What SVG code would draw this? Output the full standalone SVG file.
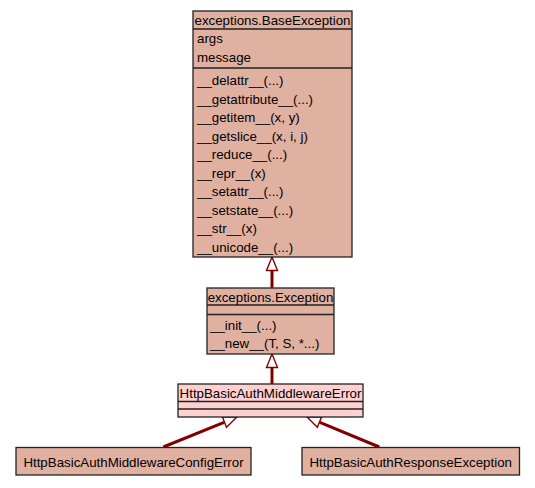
<svg xmlns="http://www.w3.org/2000/svg" width="535" height="488" viewBox="0 0 535 488">
<style>
text{font-family:"Liberation Sans",Arial,sans-serif;font-size:13.3px;fill:#000}
.t{text-anchor:middle}
.base{fill:#e0b0a0;stroke:#222;stroke-width:1.3}
.sel{fill:#ffd0d0;stroke:#222;stroke-width:1.3}
.sep{stroke:#222;stroke-width:1.3}
.edge{stroke:#800000;stroke-width:3;fill:none}
</style>
<defs>
<marker id="inh" markerUnits="userSpaceOnUse" markerWidth="16" markerHeight="14" refX="0" refY="6" orient="auto" overflow="visible">
<path d="M0.5,0.5 L14,6 L0.5,11.5 Z" fill="#fff" stroke="#800000" stroke-width="1.4"/>
</marker>
</defs>
<g id="connectors">
<line class="edge" x1="272" y1="287.7" x2="272" y2="271" marker-end="url(#inh)"/>
<line class="edge" x1="272" y1="384" x2="272" y2="368" marker-end="url(#inh)"/>
<line class="edge" x1="163.3" y1="447" x2="224" y2="422.3" marker-end="url(#inh)"/>
<line class="edge" x1="379.3" y1="447" x2="319.9" y2="422.4" marker-end="url(#inh)"/>
</g>
<g id="BaseException">
<rect class="base" x="193" y="11" width="159" height="246"/>
<line class="sep" x1="193" y1="29" x2="352" y2="29"/>
<line class="sep" x1="193" y1="68" x2="352" y2="68"/>
<text class="t" x="272.5" y="24.5">exceptions.BaseException</text>
<text x="197" y="43.3">args</text>
<text x="197" y="61.7">message</text>
<text x="197" y="85">__delattr__(...)</text>
<text x="197" y="103.5">__getattribute__(...)</text>
<text x="197" y="122">__getitem__(x, y)</text>
<text x="197" y="140.7">__getslice__(x, i, j)</text>
<text x="197" y="159.2">__reduce__(...)</text>
<text x="197" y="177.8">__repr__(x)</text>
<text x="197" y="196.4">__setattr__(...)</text>
<text x="197" y="214.9">__setstate__(...)</text>
<text x="197" y="233.4">__str__(x)</text>
<text x="197" y="252">__unicode__(...)</text>
</g>
<g id="Exception">
<rect class="base" x="207" y="288" width="127" height="66"/>
<line class="sep" x1="207" y1="305" x2="334" y2="305"/>
<line class="sep" x1="207" y1="314.5" x2="334" y2="314.5"/>
<text class="t" x="270.5" y="301.7">exceptions.Exception</text>
<text x="210" y="330">__init__(...)</text>
<text x="210" y="348.3">__new__(T, S, *...)</text>
</g>
<g id="HttpBasicAuthMiddlewareError">
<rect class="sel" x="178" y="384" width="185" height="33"/>
<line class="sep" x1="178" y1="401.5" x2="363" y2="401.5"/>
<line class="sep" x1="178" y1="409" x2="363" y2="409"/>
<text class="t" x="270.5" y="397.7">HttpBasicAuthMiddlewareError</text>
</g>
<g id="HttpBasicAuthMiddlewareConfigError">
<rect class="base" x="16" y="447.5" width="235" height="27.5"/>
<text class="t" x="133.5" y="466.7">HttpBasicAuthMiddlewareConfigError</text>
</g>
<g id="HttpBasicAuthResponseException">
<rect class="base" x="302" y="447.5" width="217.5" height="27.5"/>
<text class="t" x="410.7" y="466.7">HttpBasicAuthResponseException</text>
</g>
</svg>
